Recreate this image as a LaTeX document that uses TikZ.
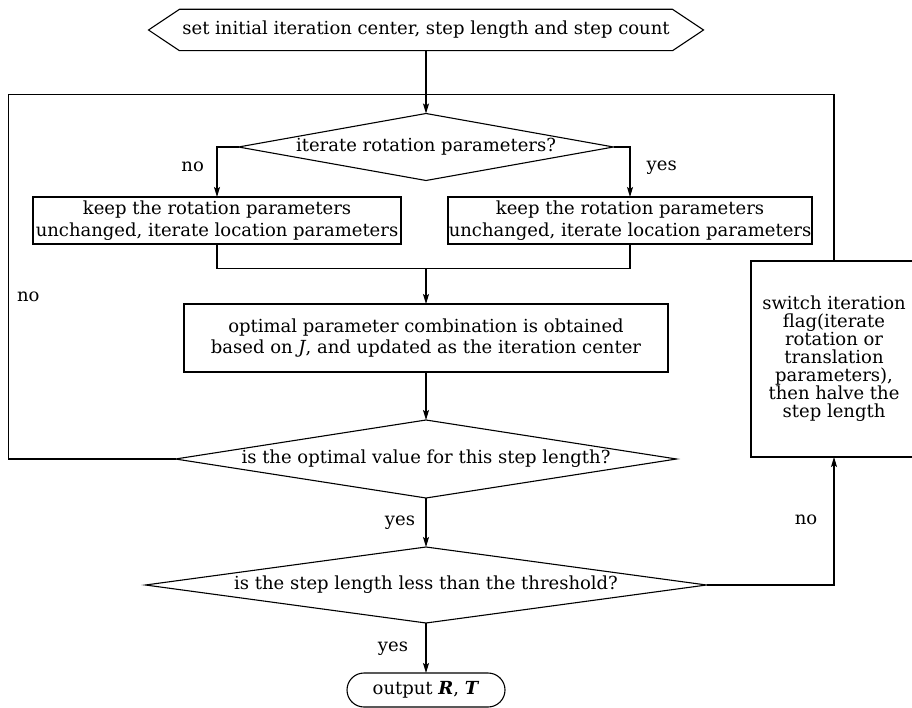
\documentclass[tikz,border=0pt]{standalone}
\usepackage{fontspec}
\setmainfont{DejaVu Serif}
\usetikzlibrary{shapes.geometric,shapes.misc,arrows.meta}
\begin{document}
\begin{tikzpicture}[x=1pt,y=-1pt, line width=1.1pt,
  every node/.style={font=\fontsize{18}{21.7}\selectfont, inner sep=0pt, outer sep=0pt},
  box/.style={draw, rectangle, align=center},
  dec/.style={draw, diamond},
  term/.style={draw, rounded rectangle},
  arr/.style={-{Stealth[length=10pt,width=6pt,inset=2pt]}},
  lbl/.style={}]
\useasboundingbox (0,0) rectangle (912,708);
\fill[white] (0,0) rectangle (912,708);

% start (hexagon)
\node[minimum width=493, minimum height=41.4] (hex) at (426,30) {set initial iteration center, step length and step count};
\draw (hex.north west) -- (hex.north east) -- ([xshift=31pt]hex.east) -- (hex.south east) -- (hex.south west) -- ([xshift=-31pt]hex.west) -- cycle;

% decisions
\node[dec, minimum width=375, minimum height=67] (d1) at (426,147) {\makebox[0pt]{iterate rotation parameters?}};
\node[dec, minimum width=501, minimum height=78] (d2) at (426,459) {\makebox[0pt]{is the optimal value for this step length?}};
\node[dec, minimum width=561, minimum height=76] (d3) at (426,585) {\makebox[0pt]{is the step length less than the threshold?}};

% boxes
\node[box, minimum width=368, minimum height=47] (lbox) at (217,220.5) {keep the rotation parameters\\unchanged, iterate location parameters};
\node[box, minimum width=364, minimum height=47] (rbox) at (630,220.5) {keep the rotation parameters\\unchanged, iterate location parameters};
\node[box, minimum width=484, minimum height=68] (mbox) at (426,338) {optimal parameter combination is obtained\\based on \textit{J}, and updated as the iteration center};
\node[box, minimum width=166, minimum height=196, font=\fontsize{18}{18}\selectfont] (sbox) at (834,359) {switch iteration\\flag(iterate\\rotation or\\translation\\parameters),\\then halve the\\step length};
\node[term, minimum width=158, minimum height=34] (out) at (426,690) {output \textbf{\textit{R}}, \textbf{\textit{T}}};

% labels
\node[lbl] (no1) at (192.7,166.7) {no};
\node[lbl] (yes1) at (661.7,168) {yes};
\node[lbl] (no2) at (28.3,296.7) {no};
\node[lbl] (yes2) at (400,523) {yes};
\node[lbl] (no3) at (806,520) {no};
\node[lbl] (yes3) at (393,649) {yes};

% connectors
\coordinate (join) at (426,268.3);
\coordinate (lt) at (8.3,94.4);
\coordinate (rt) at (834,94.4);
\draw[arr] (hex.south) -- (d1.north);
\draw[arr] (d1.west) -| (lbox.north);
\draw[arr] (d1.east) -| (rbox.north);
\draw (lbox.south) |- (join) -| (rbox.south);
\draw[arr] (join) -- (mbox.north);
\draw[arr] (mbox.south) -- (d2.north);
\draw (d2.west) -| (lt) -- (rt) -- (sbox.north);
\draw[arr] (d2.south) -- (d3.north);
\draw[arr] (d3.east) -| (sbox.south);
\draw[arr] (d3.south) -- (out.north);
\end{tikzpicture}
\end{document}
